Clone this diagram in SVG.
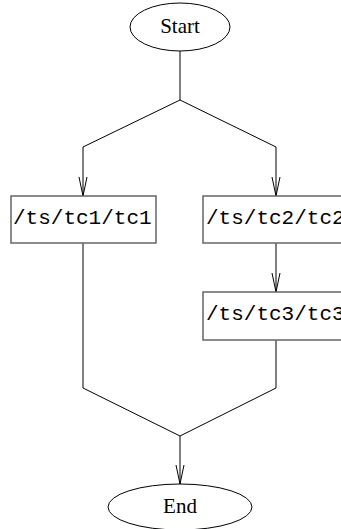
<svg xmlns="http://www.w3.org/2000/svg" width="341" height="529" viewBox="0 0 341 529">
<style>
.e{fill:#fff;stroke:#000;stroke-width:1}
.b{fill:#fff;stroke:#666;stroke-width:1.5}
.c{fill:none;stroke:#000;stroke-width:1}
.t{font-family:"Liberation Serif",serif;font-size:21px;text-anchor:middle;fill:#000}
.m{font-family:"Liberation Mono",monospace;font-size:21px;fill:#000}
</style>
<rect width="341" height="529" fill="#fff"/>
<g id="connectors" class="c">
<path d="M180,51 V100 L83,147 V196"/>
<path d="M180,100 L276,147 V196"/>
<path d="M276,243 V292"/>
<path d="M83,243 V388 L180,436"/>
<path d="M276,340 V388 L180,436 V484"/>
<path d="M79,177 L83,196 L87,177"/>
<path d="M272,177 L276,196 L280,177"/>
<path d="M272,273 L276,292 L280,273"/>
<path d="M176,465 L180,484 L184,465"/>
</g>
<g id="start"><ellipse class="e" cx="180" cy="27" rx="50" ry="24"/><text class="t" x="180" y="33">Start</text></g>
<g id="tc1"><rect class="b" x="11" y="196" width="145" height="47"/><text class="m" x="13" y="224">/ts/tc1/tc1</text></g>
<g id="tc2"><rect class="b" x="203" y="196" width="145" height="47"/><text class="m" x="206" y="224">/ts/tc2/tc2</text></g>
<g id="tc3"><rect class="b" x="203" y="292" width="145" height="48"/><text class="m" x="206" y="320">/ts/tc3/tc3</text></g>
<g id="end"><ellipse class="e" cx="180" cy="507" rx="72" ry="23"/><text class="t" x="180" y="513">End</text></g>
</svg>
